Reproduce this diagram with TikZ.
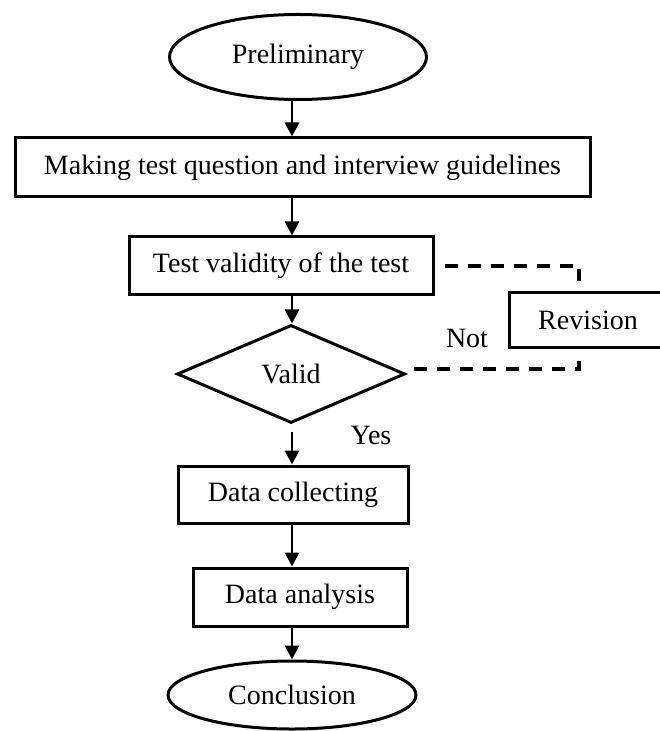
\documentclass[tikz,border=0pt]{standalone}
\usepackage{fontspec}
\setmainfont{Liberation Serif}
\usetikzlibrary{arrows.meta,shapes.geometric}
\tikzset{
	box/.style={draw, line width=1.5pt, inner sep=0pt, font=\fontsize{14}{16}\selectfont},
	oval/.style={draw, ellipse, line width=1.5pt, inner sep=0pt, font=\fontsize{14}{16}\selectfont},
	flow/.style={line width=1.4pt, -{Triangle[length=7pt,width=7pt]}},
	back/.style={line width=1.6pt, dash pattern=on 6.5pt off 5pt}
}

\begin{document}
\begin{tikzpicture}[x=0.5pt, y=-0.5pt]
			%%%%% START %%%%%
			\useasboundingbox (0, 0) rectangle (659, 731);
			
			\node[oval, minimum width=128.5pt, minimum height=42.5pt] (prelim) at (298, 57) {Preliminary};
			\node[box, minimum width=287.5pt, minimum height=29.5pt] (making) at (302.5, 167.5) {Making test question and interview guidelines};
			\node[box, minimum width=152pt, minimum height=29pt] (testval) at (281, 266) {Test validity of the test};
			\node[box, minimum width=79pt, minimum height=27pt] (revision) at (588, 320) {Revision};
			\node[draw, diamond, line width=1.5pt, inner sep=0pt, minimum width=114pt, minimum height=49pt, font=\fontsize{14}{16}\selectfont] (valid) at (291, 374) {Valid};
			\node[box, minimum width=115pt, minimum height=28.5pt] (collect) at (293, 494.5) {Data collecting};
			\node[box, minimum width=107pt, minimum height=29pt] (analysis) at (300, 597) {Data analysis};
			\node[oval, minimum width=124pt, minimum height=34pt] (concl) at (292, 695) {Conclusion};
			
			\node[font=\fontsize{14}{16}\selectfont] (not) at (467, 338) {Not};
			\node[font=\fontsize{14}{16}\selectfont] (yes) at (371, 435) {Yes};
			
			\draw[flow] (prelim.south -| 292, 0) -- (making.north -| 292, 0);
			\draw[flow] (making.south -| 292, 0) -- (testval.north -| 292, 0);
			\draw[flow] (testval.south -| 292, 0) -- (valid.north -| 292, 0);
			\draw[flow, shorten <=3.5pt] (valid.south -| 292, 0) -- (collect.north -| 292, 0);
			\draw[flow] (collect.south -| 292, 0) -- (analysis.north -| 292, 0);
			\draw[flow] (analysis.south -| 292, 0) -- (concl.north -| 292, 0);
			
			\coordinate (topend) at (579, 281);
			\coordinate (botend) at (579, 353);
			\draw[back, shorten <=5pt] (testval.east |- 0, 266) -| (topend);
			\draw[back, shorten <=3.5pt] (valid.east |- 0, 369) -| (botend);
			
			%%%%% END %%%%%
\end{tikzpicture}
\end{document}
